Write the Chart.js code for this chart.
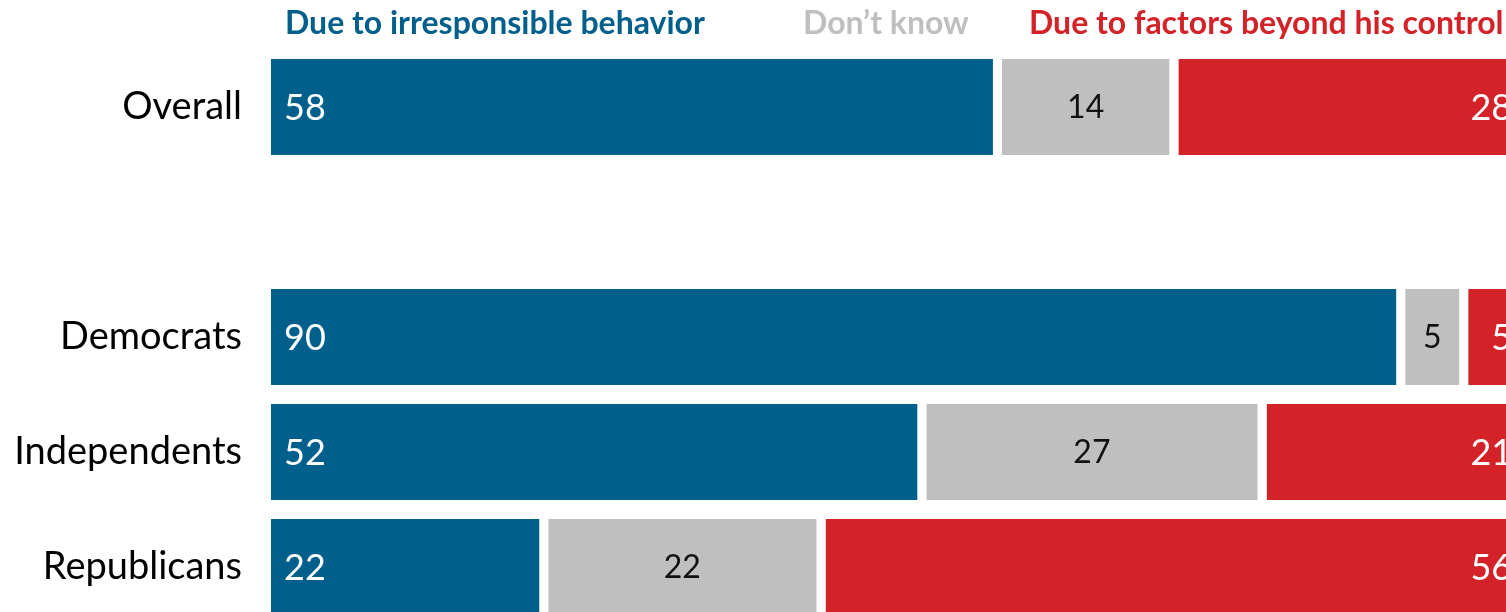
<!DOCTYPE html>
<html>
<head>
<meta charset="utf-8">
<script src="https://cdn.jsdelivr.net/npm/chart.js@4/dist/chart.umd.min.js"></script>
<style>
  html, body { margin: 0; padding: 0; overflow: hidden; background: #fff; }
  canvas { display: block; }
</style>
</head>
<body>
<canvas id="blame" width="1506" height="640"></canvas>
<script>
// rows (blank row separates overall from party breakdown)
const groups = ["Overall", "", "Democrats", "Independents", "Republicans"];
const irresponsible = [58, null, 90, 52, 22];
const dontKnow = [14, null, 5, 27, 22];
const beyondControl = [28, null, 5, 21, 56];
const seriesNames = ["Due to irresponsible behavior", "Don\u2019t know", "Due to factors beyond his control"];

const BLUE = "#005F8B", GREY = "#BFBFBF", RED = "#D42229";
const GAP = 9;

const barLabels = {
  id: "barLabels",
  afterDatasetsDraw(chart) {
    const ctx = chart.ctx;
    ctx.save();
    ctx.textBaseline = "middle";
    chart.data.datasets.forEach((ds, i) => {
      chart.getDatasetMeta(i).data.forEach((bar, j) => {
        const v = ds.data[j];
        if (v == null) return;
        const start = bar.base, end = bar.x - GAP;
        ctx.font = "36px Lato";
        if (i === 0) {
          ctx.fillStyle = "#fff";
          ctx.textAlign = "left";
          ctx.fillText(v, start + 13, bar.y + 1);
        } else if (i === 1) {
          ctx.fillStyle = "#111";
          ctx.font = "32px Lato";
          ctx.textAlign = "center";
          ctx.fillText(v, (start + end) / 2, bar.y + 1);
        } else {
          ctx.fillStyle = "#fff";
          ctx.textAlign = "right";
          ctx.fillText(v, end - 10, bar.y + 1);
        }
      });
    });
    ctx.restore();
  }
};

const headerLegend = {
  id: "headerLegend",
  afterDraw(chart) {
    const ctx = chart.ctx;
    const left = chart.chartArea.left;
    ctx.save();
    ctx.font = "bold 32px Lato";
    ctx.textBaseline = "middle";
    ctx.textAlign = "left";
    const xs = [left + 14, left + 532, left + 758];
    const cols = [BLUE, GREY, RED];
    seriesNames.forEach((n, i) => {
      ctx.fillStyle = cols[i];
      ctx.fillText(n, xs[i], 24);
    });
    ctx.restore();
  }
};

const seg = (label, data, color) => ({
  label, data,
  backgroundColor: color,
  borderColor: "#fff",
  borderWidth: { top: 0, bottom: 0, left: 0, right: GAP },
  borderSkipped: false,
  barPercentage: 0.835,
  categoryPercentage: 1
});

new Chart(document.getElementById("blame"), {
  type: "bar",
  data: {
    labels: groups,
    datasets: [
      seg(seriesNames[0], irresponsible, BLUE),
      seg(seriesNames[1], dontKnow, GREY),
      seg(seriesNames[2], beyondControl, RED)
    ]
  },
  options: {
    indexAxis: "y",
    responsive: false,
    devicePixelRatio: 1,
    animation: false,
    layout: { padding: { top: 49.5, bottom: 15.5, left: 0, right: 0 } },
    plugins: { legend: { display: false }, tooltip: { enabled: false } },
    scales: {
      x: { stacked: true, display: false, min: 0, max: 98 },
      y: {
        stacked: true,
        grid: { display: false, drawTicks: false },
        border: { display: false },
        ticks: { color: "#000", font: { family: "Lato", size: 38 }, padding: 29 },
        afterFit(scale) {
          scale.width = 271;
          scale.paddingTop = 0;
          scale.paddingBottom = 0;
        }
      }
    }
  },
  plugins: [barLabels, headerLegend]
});
</script>
</body>
</html>
